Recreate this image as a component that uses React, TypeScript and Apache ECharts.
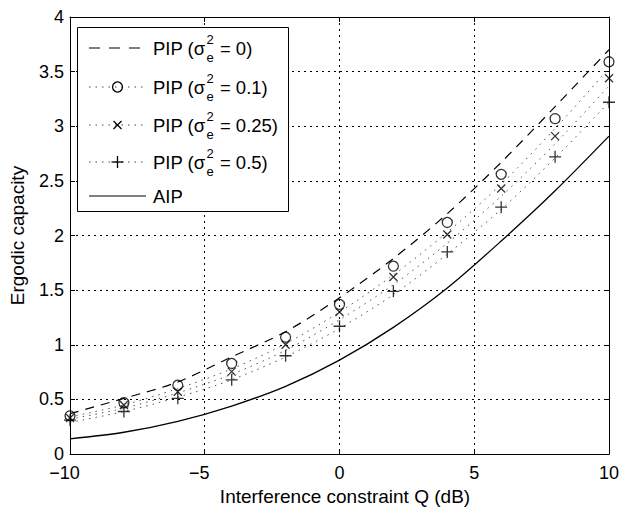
import React, { useEffect, useRef } from 'react';
import * as echarts from 'echarts';

const xs = [-10, -8, -6, -4, -2, 0, 2, 4, 6, 8, 10];
const pipPerfect = [0.37, 0.51, 0.66, 0.89, 1.12, 1.43, 1.79, 2.2, 2.67, 3.18, 3.7];
const pip01Curve = [0.34, 0.45, 0.6, 0.78, 1.01, 1.3, 1.64, 2.03, 2.47, 2.98, 3.53];
const pip025Curve = [0.32, 0.42, 0.56, 0.73, 0.95, 1.23, 1.55, 1.93, 2.36, 2.84, 3.37];
const pip05Curve = [0.29, 0.39, 0.52, 0.68, 0.89, 1.15, 1.46, 1.83, 2.24, 2.71, 3.22];
const aip = [0.14, 0.2, 0.3, 0.44, 0.62, 0.86, 1.16, 1.52, 1.95, 2.41, 2.91];
const pip01Marks = [0.35, 0.47, 0.63, 0.83, 1.07, 1.37, 1.72, 2.12, 2.56, 3.07, 3.59];
const pip025Marks = [0.33, 0.45, 0.57, 0.755, 1.0, 1.3, 1.62, 2.01, 2.43, 2.91, 3.44];
const pip05Marks = [0.31, 0.39, 0.51, 0.68, 0.9, 1.17, 1.49, 1.85, 2.26, 2.72, 3.22];
const legendValues = ['0', '0.1', '0.25', '0.5'];
const xRange = [-10, 10, 5];
const yRange = [0, 4, 0.5];

const FONT = '"Liberation Sans", Arial, Helvetica, sans-serif';
const CROSS = 'path://M0,0L10,10M10,0L0,10';
const PLUS = 'path://M5,0L5,10M0,5L10,5';

function measure(text: string, size: number): number {
  const ctx = document.createElement('canvas').getContext('2d');
  if (!ctx) return text.length * size * 0.5;
  ctx.font = `${size}px ${FONT}`;
  return ctx.measureText(text).width;
}

function pairs(arr: number[]) {
  return xs.map((x, i) => [x, arr[i]]);
}

function buildLegend() {
  const els: any[] = [];
  const rowY = [48, 87, 125, 162, 196];
  const lx1 = 89, lx2 = 146, mx = 117.5, tx = 153;
  els.push({
    type: 'rect', z: 100,
    shape: { x: 77.5, y: 27.5, width: 211, height: 184 },
    style: { fill: '#fff', stroke: '#000', lineWidth: 1 },
  });
  const kinds = ['dash', 'circle', 'cross', 'plus', 'solid'];
  kinds.forEach((k, i) => {
    const y = rowY[i];
    const lineStyle: any = { stroke: '#000', lineWidth: 1 };
    if (k === 'dash') lineStyle.lineDash = [11, 9];
    else if (k !== 'solid') { lineStyle.lineDash = [1.5, 5]; lineStyle.stroke = '#444'; }
    els.push({ type: 'line', z: 101, shape: { x1: lx1, y1: y, x2: lx2, y2: y }, style: lineStyle });
    if (k === 'circle') {
      els.push({ type: 'circle', z: 102, shape: { cx: mx, cy: y, r: 5 }, style: { fill: 'none', stroke: '#000', lineWidth: 1.3 } });
    } else if (k === 'cross') {
      els.push({ type: 'line', z: 102, shape: { x1: mx - 4, y1: y - 4, x2: mx + 4, y2: y + 4 }, style: { stroke: '#000', lineWidth: 1.3 } });
      els.push({ type: 'line', z: 102, shape: { x1: mx - 4, y1: y + 4, x2: mx + 4, y2: y - 4 }, style: { stroke: '#000', lineWidth: 1.3 } });
    } else if (k === 'plus') {
      els.push({ type: 'line', z: 102, shape: { x1: mx - 6, y1: y, x2: mx + 6, y2: y }, style: { stroke: '#000', lineWidth: 1.3 } });
      els.push({ type: 'line', z: 102, shape: { x1: mx, y1: y - 6, x2: mx, y2: y + 6 }, style: { stroke: '#000', lineWidth: 1.3 } });
    }
    const txt = (text: string, x: number, yy: number, size: number) => ({
      type: 'text', z: 103, x, y: yy,
      style: {
        text, font: `${size}px ${FONT}`, fill: '#000',
        textAlign: 'left', textVerticalAlign: 'middle', align: 'left', verticalAlign: 'middle',
      },
    });
    if (i < 4) {
      const pre = 'PIP (σ';
      const w1 = measure(pre, 18.5);
      els.push(txt(pre, tx, y, 18.5));
      const sx = tx + w1 + 1;
      els.push(txt('2', sx, y - 9, 13));
      els.push(txt('e', sx, y + 9, 13));
      const sw = Math.max(measure('2', 13), measure('e', 13));
      els.push(txt(` = ${legendValues[i]})`, sx + sw + 1, y, 18.5));
    } else {
      els.push(txt('AIP', tx, y, 18.5));
    }
  });
  return els;
}

export default function App() {
  const ref = useRef<HTMLDivElement>(null);
  useEffect(() => {
    if (!ref.current) return;
    const chart = echarts.init(ref.current, undefined, { renderer: 'svg' });
    const axisLine = { show: true, onZero: false, lineStyle: { color: '#000', width: 1 } };
    const tick = { show: true, inside: true, length: 5, lineStyle: { color: '#000' } };
    const split = { show: true, lineStyle: { color: '#000', width: 1, type: [2, 4] } };
    const dotted = { color: '#555', width: 1, type: [1.5, 5] };
    const option: any = {
      animation: false,
      backgroundColor: '#fff',
      grid: { left: 68, top: 17, right: 12, bottom: 53, containLabel: false },
      xAxis: [
        {
          type: 'value', min: xRange[0], max: xRange[1], interval: xRange[2], position: 'bottom',
          axisLine, axisTick: tick, splitLine: split,
          axisLabel: {
            color: '#000', fontSize: 18, lineHeight: 18, fontFamily: FONT, margin: 10,
            formatter: (v: number) => (v < 0 ? `{neg|−${-v}}` : `${v}`),
            rich: { neg: { color: '#000', fontSize: 18, lineHeight: 18, fontFamily: FONT, padding: [0, 11, 0, 0] } },
          },
          name: 'Interference constraint Q (dB)', nameLocation: 'middle', nameGap: 29,
          nameTextStyle: { color: '#000', fontSize: 19, fontFamily: FONT, padding: [0, 0, 0, 11] },
        },
        {
          type: 'value', min: xRange[0], max: xRange[1], interval: xRange[2], position: 'top',
          axisLine, axisTick: tick, axisLabel: { show: false }, splitLine: { show: false },
        },
      ],
      yAxis: [
        {
          type: 'value', min: yRange[0], max: yRange[1], interval: yRange[2], position: 'left',
          axisLine, axisTick: tick, splitLine: split,
          axisLabel: { color: '#000', fontSize: 18, lineHeight: 18, fontFamily: FONT, margin: 6 },
          name: 'Ergodic capacity', nameLocation: 'middle', nameGap: 43,
          nameTextStyle: { color: '#000', fontSize: 19, fontFamily: FONT },
        },
        {
          type: 'value', min: yRange[0], max: yRange[1], interval: yRange[2], position: 'right',
          axisLine, axisTick: tick, axisLabel: { show: false }, splitLine: { show: false },
        },
      ],
      series: [
        { name: 'PIP0', type: 'line', smooth: 0.3, showSymbol: false, data: pairs(pipPerfect), lineStyle: { color: '#000', width: 1.2, type: [9, 7] }, z: 3 },
        { name: 'PIP0.1', type: 'line', smooth: 0.3, showSymbol: false, data: pairs(pip01Curve), lineStyle: dotted, z: 3 },
        { name: 'PIP0.25', type: 'line', smooth: 0.3, showSymbol: false, data: pairs(pip025Curve), lineStyle: dotted, z: 3 },
        { name: 'PIP0.5', type: 'line', smooth: 0.3, showSymbol: false, data: pairs(pip05Curve), lineStyle: dotted, z: 3 },
        { name: 'AIP', type: 'line', smooth: 0.3, showSymbol: false, data: pairs(aip), lineStyle: { color: '#000', width: 1.3 }, z: 3 },
        { name: 'sim0.1', type: 'scatter', symbol: 'circle', symbolSize: 10, data: pairs(pip01Marks), itemStyle: { color: 'rgba(0,0,0,0)', borderColor: '#000', borderWidth: 1.3 }, z: 4 },
        { name: 'sim0.25', type: 'scatter', symbol: CROSS, symbolSize: 8, data: pairs(pip025Marks), itemStyle: { color: 'rgba(0,0,0,0)', borderColor: '#000', borderWidth: 1.3 }, z: 4 },
        { name: 'sim0.5', type: 'scatter', symbol: PLUS, symbolSize: 12, data: pairs(pip05Marks), itemStyle: { color: 'rgba(0,0,0,0)', borderColor: '#000', borderWidth: 1.3 }, z: 4 },
      ],
      graphic: { elements: buildLegend() },
    };
    chart.setOption(option);
    return () => chart.dispose();
  }, []);
  return (
    <div
      ref={ref}
      style={{ position: 'fixed', left: 0, top: 0, width: 622, height: 511, background: '#fff' }}
    />
  );
}
